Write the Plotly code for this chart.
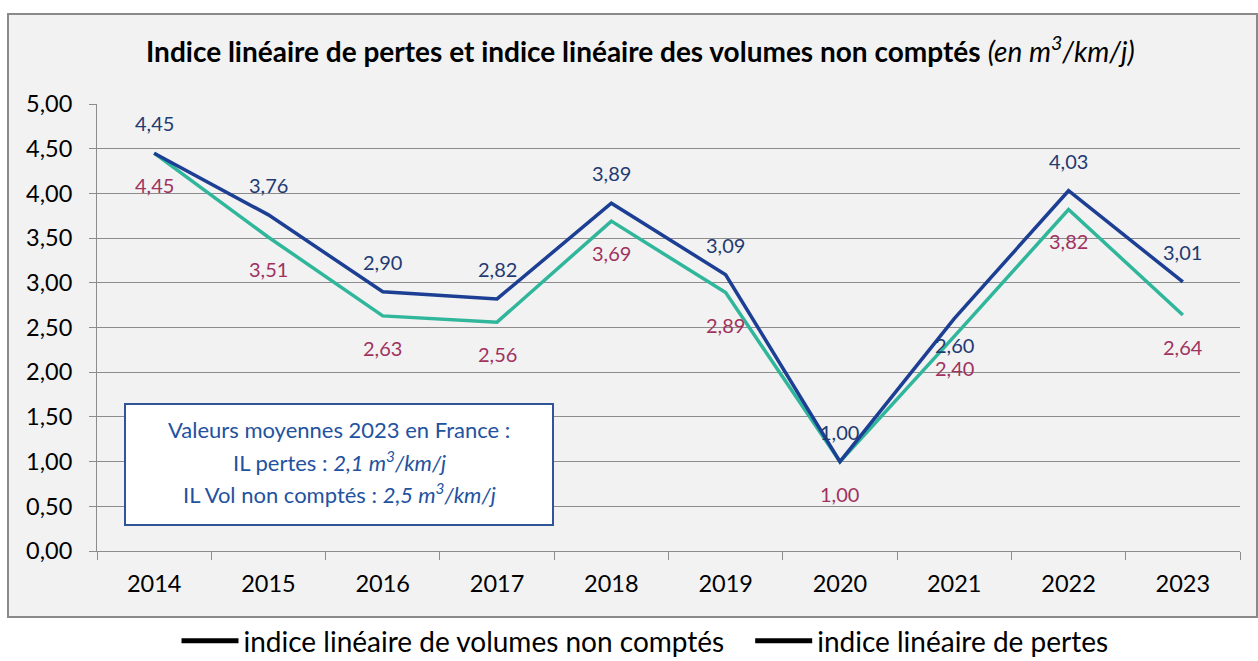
import plotly.graph_objects as go

years = ["2014", "2015", "2016", "2017", "2018", "2019", "2020", "2021", "2022", "2023"]
il_vol_non_comptes = [4.45, 3.76, 2.90, 2.82, 3.89, 3.09, 1.00, 2.60, 4.03, 3.01]
il_pertes = [4.45, 3.51, 2.63, 2.56, 3.69, 2.89, 1.00, 2.40, 3.82, 2.64]
name_vol = "indice linéaire de volumes non comptés"
name_pertes = "indice linéaire de pertes"
title_bold = "Indice linéaire de pertes et indice linéaire des volumes non comptés"
title_italic = "(en m<sup>3</sup>/km/j)"
box_lines = [
    "Valeurs moyennes 2023 en France :",
    "IL pertes : <i>2,1 m<sup>3</sup>/km/j</i>",
    "IL Vol non comptés : <i>2,5 m<sup>3</sup>/km/j</i>",
]

W, H = 1258, 661
L, R, T, B = 97, 18, 104, 110
PW, PH = W - L - R, H - T - B

def px_x(p):
    return (p - L) / PW

def px_y(p):
    return (H - B - p) / PH

FONT = "Lato"
DARK = "#1c3f94"
TEAL = "#2fb69b"
DARK_LBL = "#1f3b73"
MAG_LBL = "#a0325f"
GRID = "#8c8c8c"

fig = go.Figure()
fig.add_trace(go.Scatter(x=years, y=il_pertes, mode="lines", line=dict(color=TEAL, width=3.5),
                         showlegend=False, hoverinfo="skip"))
fig.add_trace(go.Scatter(x=years, y=il_vol_non_comptes, mode="lines", line=dict(color=DARK, width=3.5),
                         showlegend=False, hoverinfo="skip"))
# legend entries (black line symbols as in the reference)
fig.add_trace(go.Scatter(x=[None], y=[None], mode="lines", line=dict(color="black", width=5),
                         name=name_vol + "\u2003"))
fig.add_trace(go.Scatter(x=[None], y=[None], mode="lines", line=dict(color="black", width=5),
                         name=name_pertes))

annotations = []
for i, (yr, v) in enumerate(zip(years, il_vol_non_comptes)):
    shift = -26 if yr == "2021" else 30
    annotations.append(dict(x=i, y=v, text=f"{v:.2f}".replace(".", ","), showarrow=False,
                            yshift=shift, font=dict(family=FONT, size=20, color=DARK_LBL)))
for i, (yr, v) in enumerate(zip(years, il_pertes)):
    annotations.append(dict(x=i, y=v, text=f"{v:.2f}".replace(".", ","), showarrow=False,
                            yshift=-32, font=dict(family=FONT, size=20, color=MAG_LBL)))

annotations.append(dict(xref="paper", yref="paper", x=px_x(640), y=px_y(50),
                        text=f"<b>{title_bold}</b> <i>{title_italic}</i>", showarrow=False,
                        xanchor="center", yanchor="middle",
                        font=dict(family=FONT, size=28, color="black")))
for j, line in enumerate(box_lines):
    annotations.append(dict(xref="paper", yref="paper", x=px_x(339), y=px_y(429 + 32 * j),
                            text=line, showarrow=False, xanchor="center", yanchor="middle",
                            font=dict(family=FONT, size=22, color="#2352a0")))

shapes = [
    dict(type="rect", xref="paper", yref="paper", x0=px_x(8), x1=px_x(1257), y0=px_y(617), y1=px_y(14),
         fillcolor="#f2f2f2", line=dict(color="#8a8a8a", width=2), layer="below"),
    dict(type="rect", xref="paper", yref="paper", x0=px_x(125), x1=px_x(553), y0=px_y(525), y1=px_y(404),
         fillcolor="white", line=dict(color="#2f5597", width=2), layer="above"),
]

fig.update_layout(
    width=W, height=H,
    margin=dict(l=L, r=R, t=T, b=B, autoexpand=False),
    paper_bgcolor="white", plot_bgcolor="#f2f2f2",
    separators=", ",
    font=dict(family=FONT, color="black"),
    xaxis=dict(type="category", showgrid=False, showline=True, linecolor=GRID, linewidth=1,
               ticks="outside", tickson="boundaries", ticklen=8, tickcolor=GRID, ticklabelstandoff=12,
               tickfont=dict(family=FONT, size=23.5, color="black"), range=[-0.5, 9.5], fixedrange=True),
    yaxis=dict(range=[0, 5], dtick=0.5, tickformat=".2f", showgrid=True, gridcolor=GRID, gridwidth=1,
               showline=True, linecolor=GRID, linewidth=1, ticks="outside", ticklen=7, tickcolor=GRID,
               ticklabelstandoff=12,
               tickfont=dict(family=FONT, size=23.5, color="black"), zeroline=False, fixedrange=True),
    legend=dict(orientation="h", x=px_x(645), xanchor="center", y=px_y(641), yanchor="middle",
                font=dict(family=FONT, size=28, color="black"), bgcolor="rgba(0,0,0,0)",
                itemwidth=57, tracegroupgap=0),
    annotations=annotations,
    shapes=shapes,
    showlegend=True,
)

fig.write_html("out.html", config={"displayModeBar": False},
               post_script="document.body.style.margin='0';document.body.style.overflow='hidden';")
